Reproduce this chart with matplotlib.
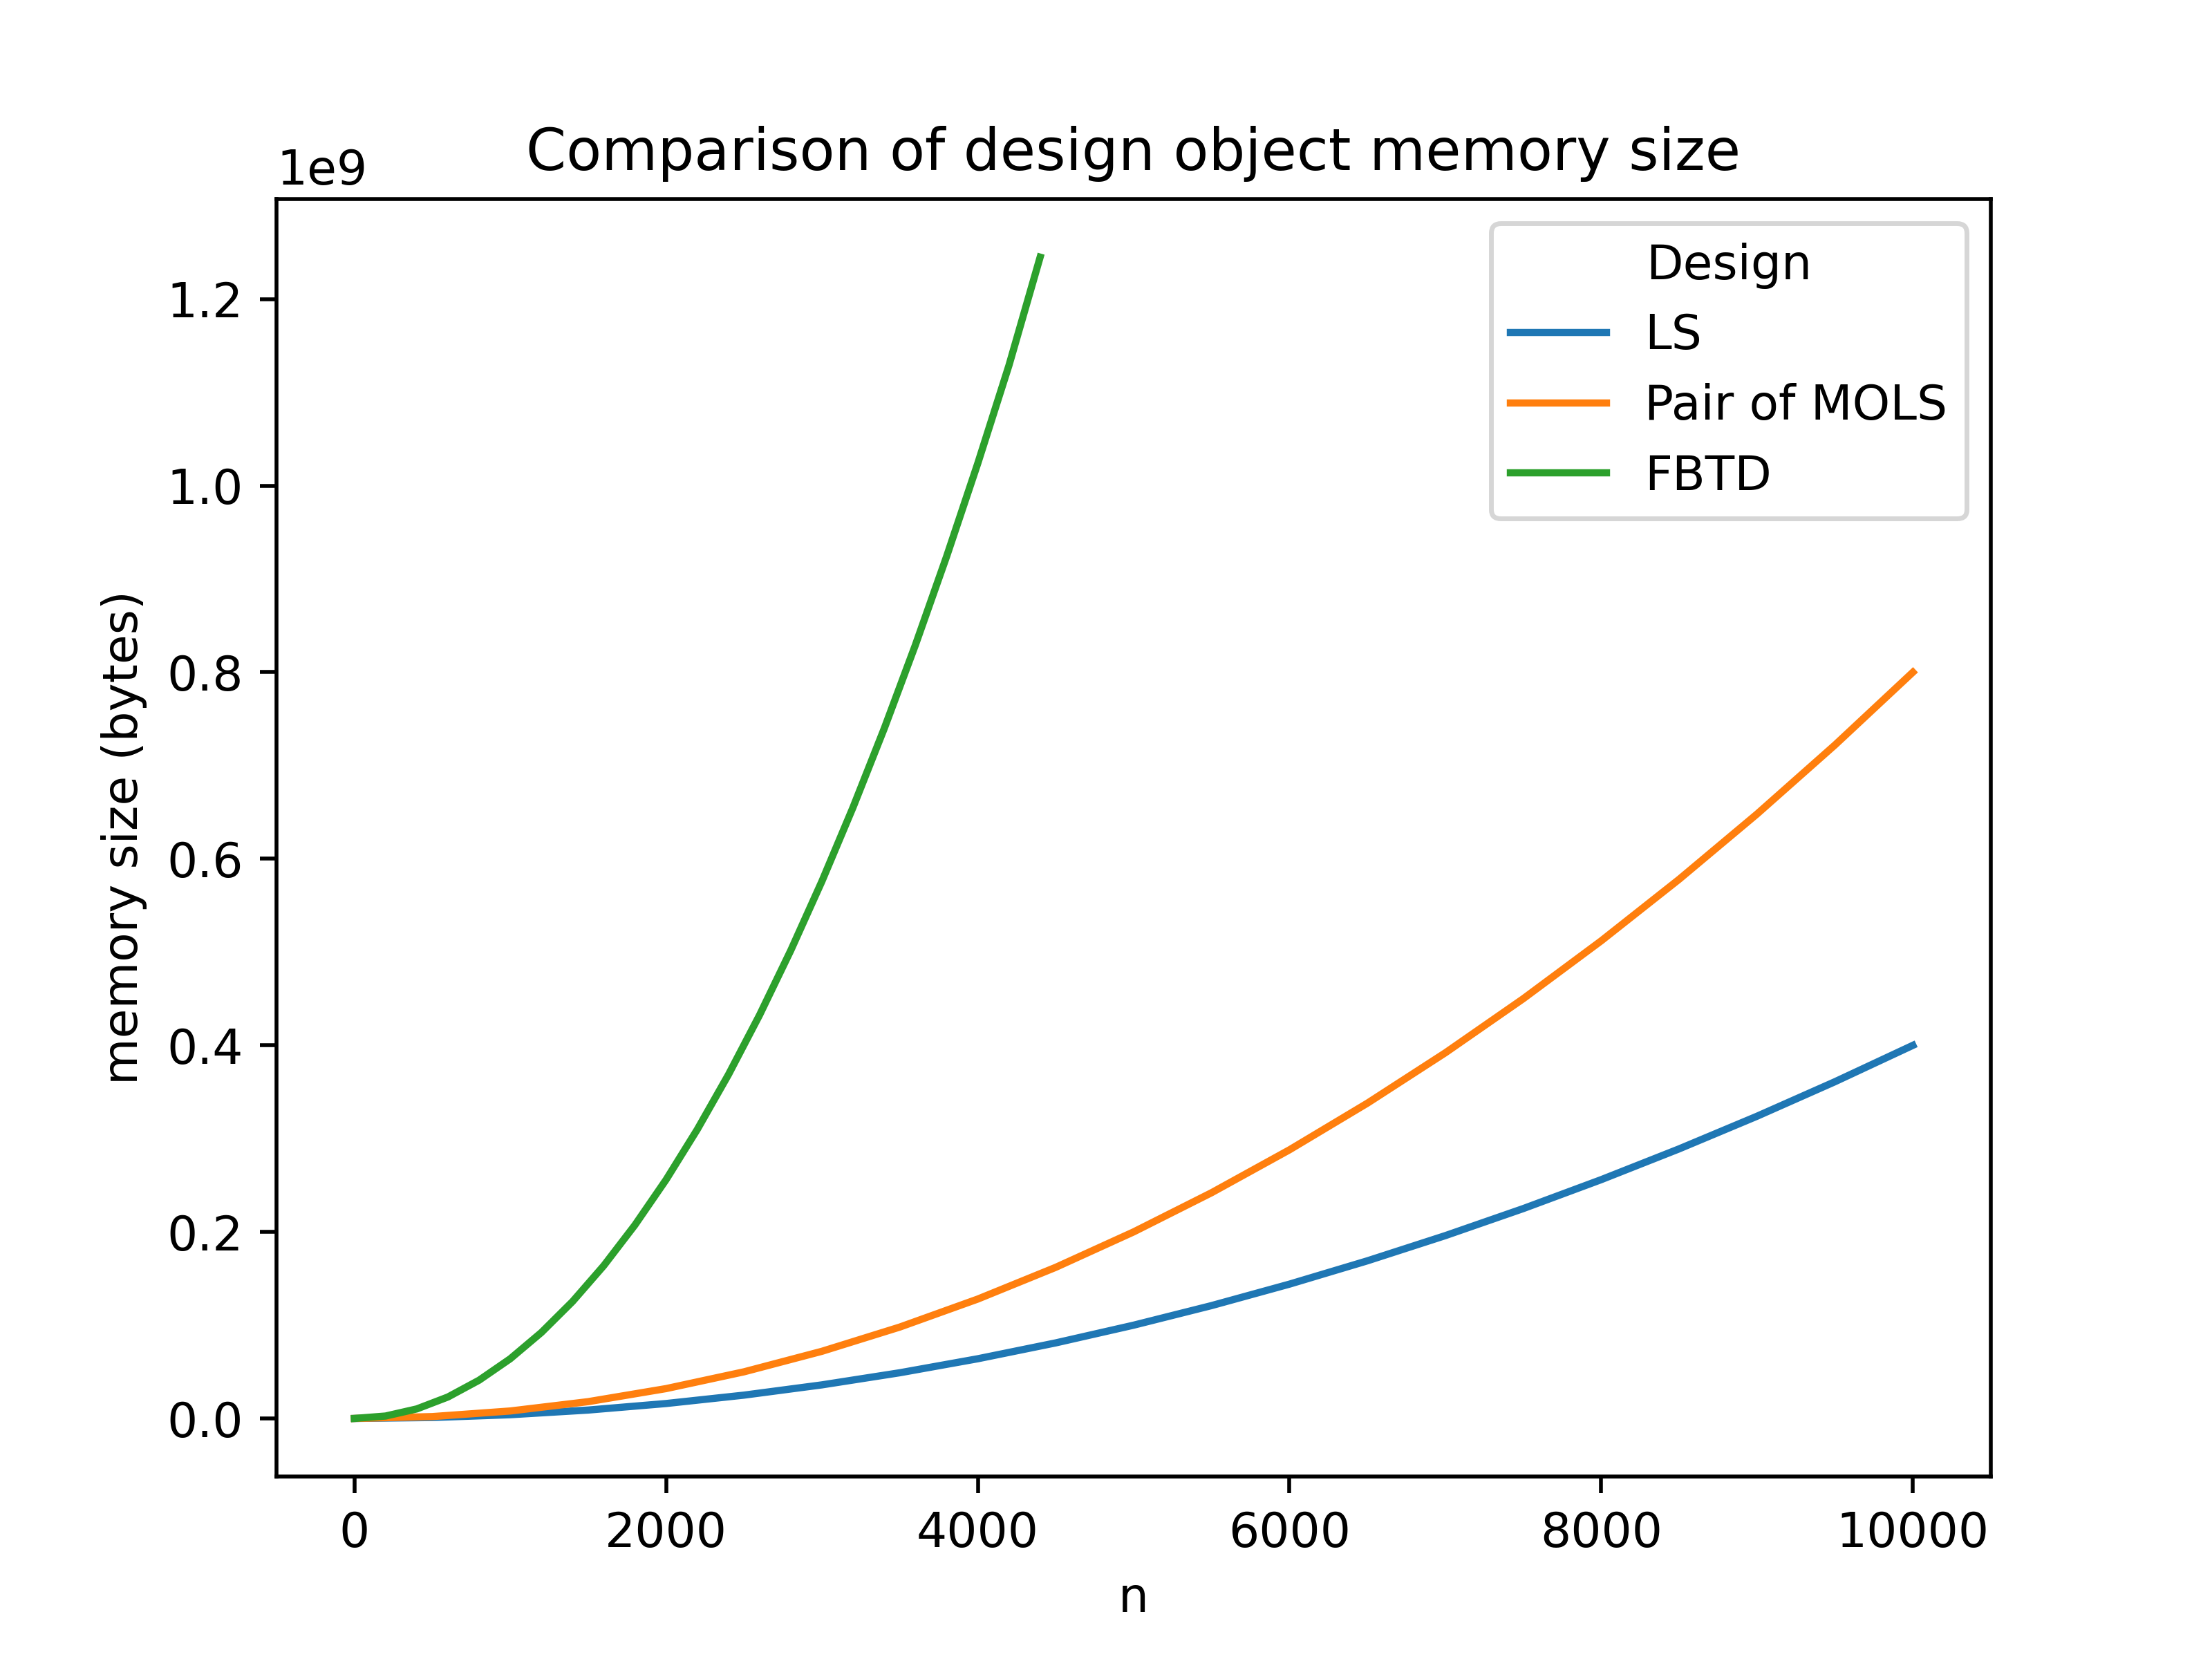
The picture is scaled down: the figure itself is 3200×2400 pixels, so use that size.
import matplotlib
matplotlib.use("Agg")
import matplotlib.pyplot as plt
import numpy as np

n_main = [0, 500, 1000, 1500, 2000, 2500, 3000, 3500, 4000, 4500, 5000,
          5500, 6000, 6500, 7000, 7500, 8000, 8500, 9000, 9500, 10000]
ls_vals = [0, 0.001, 0.004, 0.009, 0.016, 0.025, 0.036, 0.049, 0.064, 0.081, 0.100,
           0.121, 0.144, 0.169, 0.196, 0.225, 0.256, 0.289, 0.324, 0.361, 0.400]
mols_vals = [0, 0.002, 0.008, 0.018, 0.032, 0.050, 0.072, 0.098, 0.128, 0.162, 0.200,
             0.242, 0.288, 0.338, 0.392, 0.450, 0.512, 0.578, 0.648, 0.722, 0.800]
n_fbtd = [0, 200, 400, 600, 800, 1000, 1200, 1400, 1600, 1800, 2000, 2200,
          2400, 2600, 2800, 3000, 3200, 3400, 3600, 3800, 4000, 4200, 4400]
fbtd_vals = [0, 0.0026, 0.0102, 0.0230, 0.0410, 0.064, 0.0922, 0.1254, 0.1638, 0.2074,
             0.256, 0.3098, 0.3686, 0.4326, 0.5018, 0.576, 0.6554, 0.7398, 0.8294,
             0.9242, 1.024, 1.129, 1.245]

fig, ax = plt.subplots(figsize=(6.4, 4.8), dpi=500)
ax.plot(n_main, np.array(ls_vals) * 1e9, label="LS")
ax.plot(n_main, np.array(mols_vals) * 1e9, label="Pair of MOLS")
ax.plot(n_fbtd, np.array(fbtd_vals) * 1e9, label="FBTD")
ax.set_title("Comparison of design object memory size")
ax.set_xlabel("n")
ax.set_ylabel("memory size (bytes)")
ax.legend(title="Design", loc="upper right")
fig.savefig("out.png", dpi=500)
